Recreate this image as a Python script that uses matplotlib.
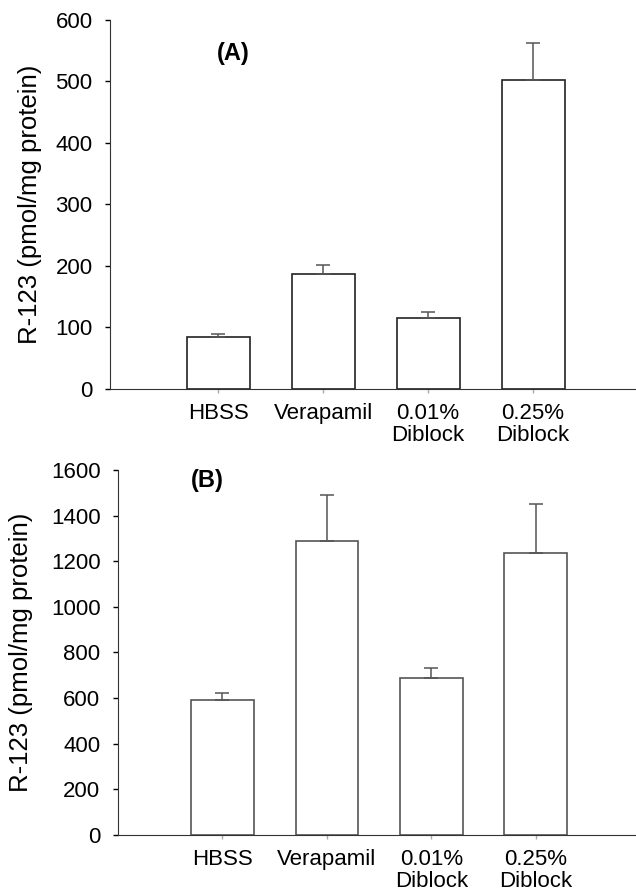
import matplotlib.pyplot as plt

plt.rcParams['font.family'] = ['Liberation Sans', 'DejaVu Sans']

# data
groups = ['HBSS', 'Verapamil', '0.01%\nDiblock', '0.25%\nDiblock']
pos = [1, 2, 3, 4]

a_mean = [84, 187, 115, 503]
a_err = [6, 14, 11, 60]

b_mean = [592, 1287, 688, 1238]
b_err = [32, 202, 44, 213]

fig = plt.figure(figsize=(6.36, 8.92), dpi=100)
ax1 = fig.add_axes([0.173, 0.5639, 0.827, 0.4137])
ax2 = fig.add_axes([0.1855, 0.0639, 0.8145, 0.4092])


def draw(ax, mean, err, edge, ylim, step, xlim, tag, tag_xy):
    ax.bar(pos, mean, width=0.6, color='white', edgecolor=edge, linewidth=1.2, zorder=2)
    ax.errorbar(pos, mean, yerr=[[0] * 4, err], fmt='none', ecolor='#555555',
                elinewidth=1.1, capsize=5, capthick=1.1, zorder=3)
    ax.set_xlim(*xlim)
    ax.set_ylim(0, ylim)
    ax.set_yticks(range(0, ylim + 1, step))
    ax.set_xticks(pos)
    ax.set_xticklabels(groups, fontsize=16, linespacing=1.07)
    ax.tick_params(axis='y', labelsize=16, length=3.6, width=1, direction='out', pad=9)
    ax.tick_params(axis='x', length=3, width=1, color='#aaaaaa', pad=7)
    for s in ['top', 'right']:
        ax.spines[s].set_visible(False)
    ax.spines['left'].set_color('#333333')
    ax.spines['bottom'].set_color('#333333')
    ax.set_ylabel('R-123 (pmol/mg protein)', fontsize=18.5)
    ax.text(tag_xy[0], tag_xy[1], tag, fontsize=17, fontweight='bold',
            ha='center', va='center')


draw(ax1, a_mean, a_err, '#222222', 600, 100, (-0.03, 4.98), '(A)', (1.14, 546))
ax1.yaxis.set_label_coords(-0.129, 0.5)

draw(ax2, b_mean, b_err, '#555555', 1600, 200, (0.0, 4.96), '(B)', (0.86, 1555))
ax2.yaxis.set_label_coords(-0.164, 0.5)

fig.savefig('out.png', dpi=100)
